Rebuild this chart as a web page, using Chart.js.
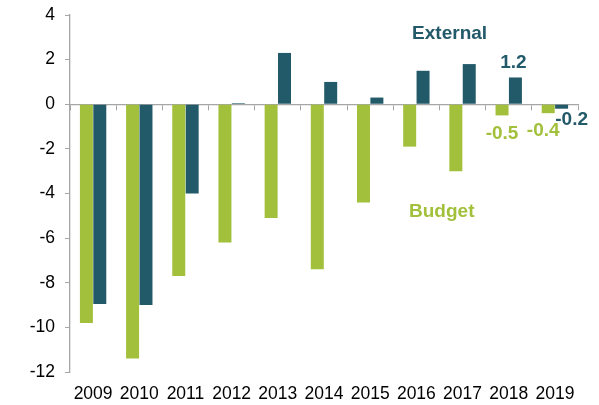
<!DOCTYPE html>
<html>
<head>
<meta charset="utf-8">
<script src="https://cdn.jsdelivr.net/npm/chart.js@4"></script>
<style>
  html, body { margin: 0; padding: 0; background: #fff; }
  #wrap { width: 599px; height: 405px; position: relative; }
</style>
</head>
<body>
<div id="wrap"><canvas id="c"></canvas></div>
<script>
// Balances, % of GDP
const years = ['2009', '2010', '2011', '2012', '2013', '2014', '2015', '2016', '2017', '2018', '2019'];
const budget = [-9.8, -11.4, -7.7, -6.2, -5.1, -7.4, -4.4, -1.9, -3.0, -0.5, -0.4];
const external = [-8.95, -9.0, -4.0, 0.05, 2.3, 1.0, 0.3, 1.5, 1.8, 1.2, -0.2];
const yTicks = [4, 2, 0, -2, -4, -6, -8, -10, -12];

const GREEN = '#a2c03b';
const TEAL = '#225a69';
const AXIS = '#a6a6a6';
const FONT = '"Liberation Sans", Arial, sans-serif';

// Text drawn inside the plot: series names and a few value labels
const seriesNames = [
  { text: 'External', color: TEAL, at: [7.72, 3.18] },
  { text: 'Budget', color: GREEN, at: [7.55, -4.8] }
];
// value labels: dataset index, category index, pixel nudge
const valueLabels = [
  { ds: 1, i: 9, dx: -2, dy: -15 },
  { ds: 0, i: 9, dx: 0, dy: 18 },
  { ds: 0, i: 10, dx: -5, dy: 18 },
  { ds: 1, i: 10, dx: 10, dy: 11 }
];

const annotate = {
  id: 'annotate',
  afterDatasetsDraw(chart) {
    const ctx = chart.ctx;
    const xs = chart.scales.x, ys = chart.scales.y;
    ctx.save();
    ctx.font = 'bold 19px ' + FONT;
    ctx.textAlign = 'center';
    ctx.textBaseline = 'middle';
    seriesNames.forEach(n => {
      ctx.fillStyle = n.color;
      const px = xs.getPixelForValue(n.at[0]);
      ctx.fillText(n.text, px, ys.getPixelForValue(n.at[1]));
    });
    valueLabels.forEach(l => {
      const ds = chart.data.datasets[l.ds];
      const bar = chart.getDatasetMeta(l.ds).data[l.i];
      const v = ds.data[l.i];
      ctx.fillStyle = ds.backgroundColor;
      ctx.fillText(v.toFixed(1), bar.x + l.dx, bar.y + l.dy);
    });
    ctx.restore();
  }
};

new Chart(document.getElementById('c'), {
  type: 'bar',
  data: {
    labels: years,
    datasets: [
      { label: 'Budget', data: budget, backgroundColor: GREEN, xAxisID: 'x' },
      { label: 'External', data: external, backgroundColor: TEAL, xAxisID: 'x' }
    ]
  },
  options: {
    responsive: true,
    maintainAspectRatio: false,
    animation: false,
    datasets: { bar: { categoryPercentage: 0.58, barPercentage: 0.97 } },
    layout: { padding: { top: 15, right: 21, left: 0, bottom: 0 } },
    plugins: { legend: { display: false }, tooltip: { enabled: false } },
    scales: {
      x: {
        position: 'bottom',
        grid: { display: false, drawTicks: false },
        border: { display: false },
        ticks: { color: '#000', font: { family: FONT, size: 17.5 }, padding: 12, maxRotation: 0, autoSkip: false },
        afterFit(s) { s.height = 33; s.paddingLeft = 0; s.paddingRight = 0; }
      },
      x0: {
        type: 'category',
        position: { y: 0 },
        offset: true,
        grid: { display: true, drawOnChartArea: false, drawTicks: true, tickLength: 5, offset: true, color: AXIS },
        border: { display: true, color: AXIS, width: 1.3 },
        ticks: { display: false }
      },
      y: {
        min: -12,
        max: 4,
        afterBuildTicks(s) { s.ticks = yTicks.map(v => ({ value: v })); },
        grid: { display: true, drawOnChartArea: false, drawTicks: true, tickLength: 5, color: AXIS },
        border: { display: true, color: AXIS, width: 1.3 },
        ticks: { color: '#000', font: { family: FONT, size: 17.5 }, padding: 10 },
        afterFit(s) { s.width = 70; s.paddingTop = 0; s.paddingBottom = 0; }
      }
    }
  },
  plugins: [annotate]
});
</script>
</body>
</html>
